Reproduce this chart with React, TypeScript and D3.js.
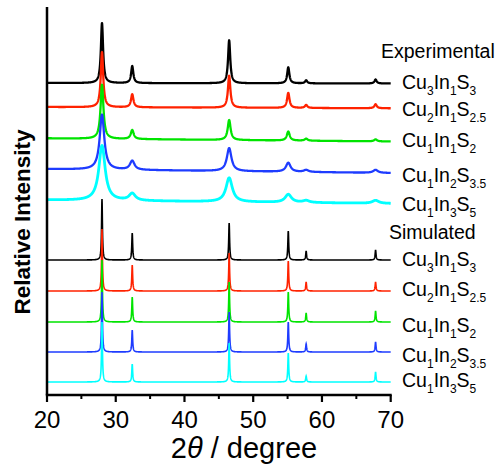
import React from 'react';
import * as d3 from 'd3';

// ---------- data ----------
const xTicks = [20, 30, 40, 50, 60, 70];
const xMinorTicks = [25, 35, 45, 55, 65];
const peakPositions = [28.0, 32.4, 46.5, 55.1, 57.7, 67.8];

// compositions: [Cu, In, S] subscripts
const cuCounts = ['3', '2', '1', '1', '1'];
const inCounts = ['1', '1', '1', '2', '3'];
const sCounts = ['3', '2.5', '2', '3.5', '5'];

const colors = ['#000000', '#ff2200', '#00e400', '#1e3cff', '#00ffff'];

// experimental patterns (relative intensity units)
const expBaseStart = [312, 288, 256.7, 226, 195];
const expBaseEnd = [311.5, 286.7, 253.5, 222, 191.5];
const expHeightsBlack = [60, 17, 43, 16, 3, 4];
const expHeightsRed = [55, 13, 32, 15, 3, 4];
const expHeightsGreen = [54, 9, 20, 9, 2, 2];
const expHeightsBlue = [55, 9, 23, 9, 2, 3];
const expHeightsCyan = [55, 7, 24, 8, 2, 3];
const expHeights = [expHeightsBlack, expHeightsRed, expHeightsGreen, expHeightsBlue, expHeightsCyan];
const expWidths = [0.38, 0.42, 0.5, 0.8, 1.1];

// simulated patterns
const simBase = [135, 104, 73, 43, 13];
const simHeightsBlack = [61, 27, 37, 29, 9, 10];
const simHeightsRed = [62, 26, 38, 30, 9, 9];
const simHeightsGreen = [62, 25, 40, 30, 9, 11];
const simHeightsBlue = [60, 22, 40, 30, 8, 10];
const simHeightsCyan = [60, 18, 39, 29, 6, 10];
const simHeights = [simHeightsBlack, simHeightsRed, simHeightsGreen, simHeightsBlue, simHeightsCyan];
const simWidth = 0.15;

// ---------- layout ----------
const W = 504, H = 464;
const M = { left: 47, right: 390.7, top: 7, bottom: 395 };
const expLabelY = [89, 116, 147, 182, 211];
const simLabelY = [266, 296, 332, 362, 387];
const FONT = "'Liberation Sans', Arial, Helvetica, sans-serif";

const x = d3.scaleLinear().domain([20, 70]).range([M.left, M.right]);
const y = d3.scaleLinear().domain([0, 388]).range([M.bottom, M.top]);

const grid = d3.range(20, 70.0001, 0.02);

function profile(base0: number, base1: number, heights: number[], fwhm: number) {
  const hw = fwhm / 2;
  return grid.map((t) => {
    let v = base0 + (base1 - base0) * (t - 20) / 50;
    peakPositions.forEach((p, i) => {
      const u = (t - p) / hw;
      v += heights[i] / (1 + u * u);
    });
    return [t, v] as [number, number];
  });
}

const line = d3.line<[number, number]>().x((d) => x(d[0])).y((d) => y(d[1]));

function Formula({ i, yPos }: { i: number; yPos: number }) {
  const sub = 12;
  const dy = 6;
  return (
    <text x={402} y={yPos} fontSize={19.5} fontFamily={FONT} fill="#000">
      <tspan>Cu</tspan>
      <tspan fontSize={sub} dy={dy}>{cuCounts[i]}</tspan>
      <tspan dy={-dy}>In</tspan>
      <tspan fontSize={sub} dy={dy}>{inCounts[i]}</tspan>
      <tspan dy={-dy}>S</tspan>
      <tspan fontSize={sub} dy={dy}>{sCounts[i]}</tspan>
    </text>
  );
}

export default function App() {
  const expPaths = expHeights.map((h, i) => line(profile(expBaseStart[i], expBaseEnd[i], h, expWidths[i])) as string);
  const simPaths = simHeights.map((h, i) => line(profile(simBase[i], simBase[i], h, simWidth)) as string);
  return (
    <svg width={W} height={H} style={{ position: 'absolute', left: 0, top: 0, background: '#fff' }}>
      {simPaths.map((d, i) => (
        <path key={'s' + i} d={d} fill="none" stroke={colors[i]} strokeWidth={1.6} />
      ))}
      {expPaths.map((d, i) => (
        <path key={'e' + i} d={d} fill="none" stroke={colors[i]} strokeWidth={i === 4 ? 2.8 : 2.3} strokeLinejoin="round" />
      ))}
      {/* axes */}
      <line x1={M.left} x2={M.left} y1={M.top} y2={M.bottom} stroke="#000" strokeWidth={2.5} />
      <line x1={M.left - 1.2} x2={M.right + 1} y1={M.bottom} y2={M.bottom} stroke="#000" strokeWidth={2.5} />
      {xTicks.map((t) => (
        <g key={'t' + t}>
          <line x1={x(t)} x2={x(t)} y1={M.bottom} y2={M.bottom + 7} stroke="#000" strokeWidth={2.2} />
          <text x={x(t)} y={428} textAnchor="middle" fontSize={24} fontFamily={FONT}>{t}</text>
        </g>
      ))}
      {xMinorTicks.map((t) => (
        <line key={'m' + t} x1={x(t)} x2={x(t)} y1={M.bottom} y2={M.bottom + 4} stroke="#000" strokeWidth={2} />
      ))}
      <text x={244} y={458} textAnchor="middle" fontSize={29} fontFamily={FONT}>
        <tspan>2</tspan>
        <tspan fontStyle="italic">θ</tspan>
        <tspan> / degree</tspan>
      </text>
      <text transform="translate(30,222) rotate(-90)" textAnchor="middle" fontSize={22.5} fontWeight="bold" fontFamily={FONT}>
        Relative Intensity
      </text>
      {/* labels */}
      <text x={381} y={58} fontSize={19.5} fontFamily={FONT}>Experimental</text>
      <text x={389} y={239} fontSize={19.5} fontFamily={FONT}>Simulated</text>
      {expLabelY.map((yy, i) => <Formula key={'el' + i} i={i} yPos={yy} />)}
      {simLabelY.map((yy, i) => <Formula key={'sl' + i} i={i} yPos={yy} />)}
    </svg>
  );
}
